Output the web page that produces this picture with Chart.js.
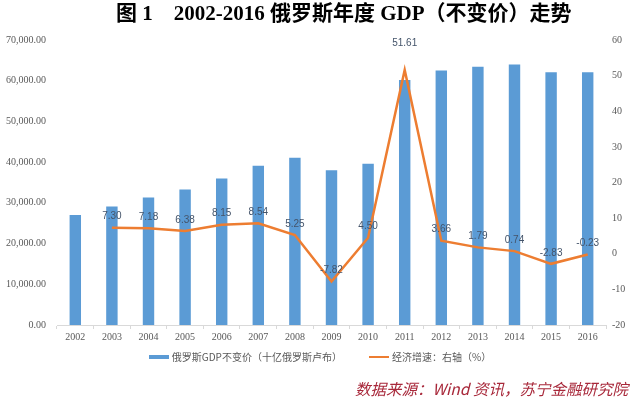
<!DOCTYPE html>
<html>
<head>
<meta charset="utf-8">
<script src="https://cdn.jsdelivr.net/npm/chart.js@4.4.0/dist/chart.umd.min.js"></script>
<style>
  html, body { margin: 0; padding: 0; background: #fff; }
  #wrap { position: relative; width: 640px; height: 401px; overflow: hidden; }
  #gdp-chart { position: absolute; left: 0; top: 0; }
  .chart-title {
    position: absolute; left: 116px; top: 1px; white-space: pre;
    font: bold 21px/24px "Liberation Serif", "Noto Sans CJK SC", serif; color: #000;
  }
  .chart-legend {
    position: absolute; left: 0; width: 640px; top: 350px; height: 14px;
    display: flex; justify-content: center; align-items: center; gap: 27px;
    font: 10px/14px "Noto Sans CJK SC", sans-serif; color: #595959;
  }
  .legend-item { display: flex; align-items: center; }
  .legend-swatch { display: inline-block; width: 20px; margin-right: 3px; }
  .chart-source {
    position: absolute; left: 355px; top: 378px; white-space: pre;
    font: italic 15.5px/20px "Noto Sans CJK SC", sans-serif; color: #A8283A;
  }
</style>
</head>
<body>
<div id="wrap">
  <canvas id="gdp-chart" width="640" height="401"></canvas>
  <div class="chart-title" id="chart-title"></div>
  <div class="chart-legend" id="chart-legend"></div>
  <div class="chart-source" id="chart-source"></div>
</div>
<script>
/* ===== DATA ===== */
const years = ['2002','2003','2004','2005','2006','2007','2008','2009','2010','2011','2012','2013','2014','2015','2016'];
const gdpValues = [27000, 29100, 31300, 33300, 36000, 39100, 41100, 38000, 39600, 60200, 62500, 63400, 64000, 62100, 62100];
const growthValues = [null, 7.30, 7.18, 6.38, 8.15, 8.54, 5.25, -7.82, 4.50, 51.61, 3.66, 1.79, 0.74, -2.83, -0.23];
const leftTicks = [0, 10000, 20000, 30000, 40000, 50000, 60000, 70000];
const rightTicks = [-20, -10, 0, 10, 20, 30, 40, 50, 60];

const titleText = '图 1    2002-2016 俄罗斯年度 GDP（不变价）走势';
const sourceText = '数据来源：Wind 资讯，苏宁金融研究院';
const gdpLabel = '俄罗斯GDP不变价（十亿俄罗斯卢布）';
const growthLabel = '经济增速：右轴（%）';

const BLUE = '#5B9BD5';
const ORANGE = '#ED7D31';
const AXIS_TEXT = '#595959';
const TICK_FONT = { family: '"Liberation Serif", serif', size: 10 };

document.getElementById('chart-title').textContent = titleText;
document.getElementById('chart-source').textContent = sourceText;

/* ===== LINE VALUE LABELS ===== */
const pointLabels = {
  id: 'pointLabels',
  afterDatasetsDraw(chart) {
    const meta = chart.getDatasetMeta(1);
    const ctx = chart.ctx;
    const peak = Math.max(...growthValues.filter(v => v !== null));
    ctx.save();
    ctx.font = '10px "Liberation Sans", Arial, sans-serif';
    ctx.fillStyle = '#44546A';
    ctx.textAlign = 'center';
    ctx.textBaseline = 'bottom';
    meta.data.forEach((pt, i) => {
      const v = growthValues[i];
      if (v === null) return;
      // the peak label sits clear of the bar top, like the original
      const lift = v === peak ? 22 : 6;
      ctx.fillText(v.toFixed(2), pt.x, pt.y - lift);
    });
    ctx.restore();
  }
};

/* ===== CHART ===== */
const chart = new Chart(document.getElementById('gdp-chart'), {
  data: {
    labels: years,
    datasets: [
      {
        type: 'bar',
        label: gdpLabel,
        data: gdpValues,
        backgroundColor: BLUE,
        borderColor: BLUE,
        yAxisID: 'y',
        barPercentage: 0.6,
        categoryPercentage: 0.52,
        order: 2
      },
      {
        type: 'line',
        label: growthLabel,
        data: growthValues,
        borderColor: ORANGE,
        backgroundColor: ORANGE,
        borderWidth: 2.5,
        pointRadius: 0,
        tension: 0,
        yAxisID: 'y1',
        order: 1
      }
    ]
  },
  options: {
    responsive: false,
    animation: false,
    layout: { padding: { top: 40, right: 0, bottom: 56, left: 0 } },
    plugins: {
      legend: { display: false },
      tooltip: { enabled: false }
    },
    scales: {
      x: {
        afterFit: s => { s.height = 20; },
        grid: { display: true, drawOnChartArea: false, color: '#D9D9D9', tickLength: 4 },
        border: { color: '#D9D9D9' },
        ticks: { color: AXIS_TEXT, font: TICK_FONT, padding: 2 }
      },
      y: {
        position: 'left',
        min: 0,
        max: 70000,
        afterBuildTicks: s => { s.ticks = leftTicks.map(v => ({ value: v })); },
        afterFit: s => { s.width = 57; },
        grid: { display: false, drawTicks: false },
        border: { display: false },
        ticks: {
          color: AXIS_TEXT,
          font: TICK_FONT,
          padding: 11,
          callback: v => v.toLocaleString('en-US', { minimumFractionDigits: 2, maximumFractionDigits: 2 })
        }
      },
      y1: {
        position: 'right',
        min: -20,
        max: 60,
        afterBuildTicks: s => { s.ticks = rightTicks.map(v => ({ value: v })); },
        afterFit: s => { s.width = 34; },
        grid: { display: false, drawTicks: false },
        border: { display: false },
        ticks: { color: AXIS_TEXT, font: TICK_FONT, padding: 6 }
      }
    }
  },
  plugins: [pointLabels]
});

/* ===== HTML LEGEND (built from the datasets) ===== */
const legendEl = document.getElementById('chart-legend');
chart.data.datasets.forEach(ds => {
  const item = document.createElement('span');
  item.className = 'legend-item';
  const sw = document.createElement('span');
  sw.className = 'legend-swatch';
  sw.style.background = ds.borderColor;
  sw.style.height = ds.type === 'bar' ? '4px' : '2px';
  const txt = document.createElement('span');
  txt.textContent = ds.label;
  item.appendChild(sw);
  item.appendChild(txt);
  legendEl.appendChild(item);
});
</script>
</body>
</html>
